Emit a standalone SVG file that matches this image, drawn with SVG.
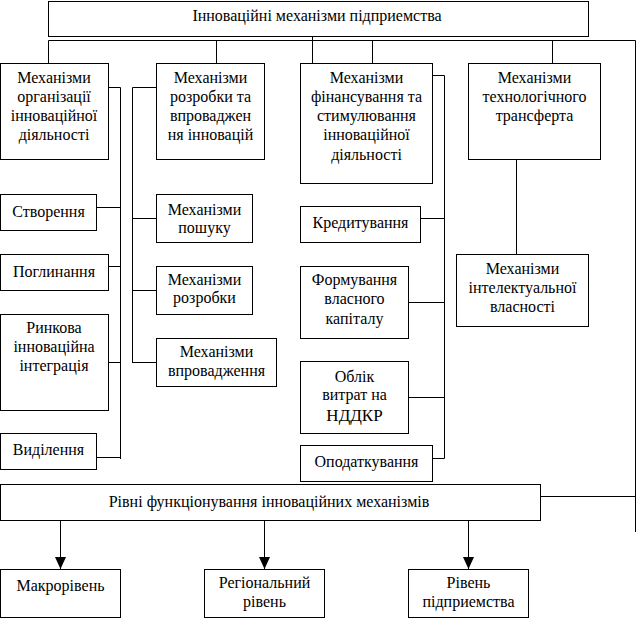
<svg xmlns="http://www.w3.org/2000/svg" width="638" height="621" viewBox="0 0 638 621">
<style>
rect{fill:#fff;stroke:#000;stroke-width:1}
text{font-family:'Liberation Serif',serif;font-size:16px;fill:#000;text-anchor:middle}
.c line,.c polyline{stroke:#000;stroke-width:1;fill:none}
</style>
<defs>
<marker id="ah" viewBox="0 0 12 12" refX="12" refY="6" markerWidth="12" markerHeight="12" markerUnits="userSpaceOnUse" orient="auto">
<path d="M0,0.5 L12,6 L0,11.5 Z" fill="#000"/>
</marker>
</defs>
<g class="c" id="connectors">
<polyline points="48.5,63 48.5,40.5 635.5,40.5 635.5,532"/>
<line x1="216.5" y1="40.5" x2="216.5" y2="63"/>
<line x1="372.5" y1="40.5" x2="372.5" y2="63"/>
<line x1="552.5" y1="40.5" x2="552.5" y2="63"/>
<line x1="312.5" y1="36" x2="312.5" y2="72"/>
<polyline points="108,87.5 120.5,87.5 120.5,459"/>
<line x1="97" y1="207.5" x2="120.5" y2="207.5"/>
<line x1="108" y1="266.5" x2="120.5" y2="266.5"/>
<line x1="108" y1="362.5" x2="120.5" y2="362.5"/>
<line x1="97" y1="457.5" x2="120.5" y2="457.5"/>
<polyline points="156.5,87.5 132.5,87.5 132.5,363"/>
<line x1="132.5" y1="218.5" x2="156.5" y2="218.5"/>
<line x1="132.5" y1="290.5" x2="156.5" y2="290.5"/>
<line x1="132.5" y1="362.5" x2="156.5" y2="362.5"/>
<polyline points="432.5,75.5 444.5,75.5 444.5,458.5 432.5,458.5"/>
<line x1="420" y1="218.5" x2="444.5" y2="218.5"/>
<line x1="408.5" y1="302.5" x2="444.5" y2="302.5"/>
<line x1="408.5" y1="397.5" x2="444.5" y2="397.5"/>
<line x1="516.5" y1="159" x2="516.5" y2="254"/>
<line x1="540" y1="496.5" x2="635.5" y2="496.5"/>
<line x1="60.5" y1="521" x2="60.5" y2="569" marker-end="url(#ah)"/>
<line x1="264.5" y1="521" x2="264.5" y2="569" marker-end="url(#ah)"/>
<line x1="468.5" y1="521" x2="468.5" y2="569" marker-end="url(#ah)"/>
</g>
<g font-family="Liberation Serif" font-size="16">
<g id="n-top"><rect x="48.5" y="1.5" width="540" height="35"/><text x="317" y="21">Інноваційні механізми підприемства</text></g>
<g id="n-org"><rect x="0.5" y="63.5" width="108" height="96"/><text x="54" y="83">Механізми</text><text x="54" y="102">організації</text><text x="54" y="121">інноваційної</text><text x="54" y="140">діяльності</text></g>
<g id="n-rozr"><rect x="156.5" y="63.5" width="108" height="96"/><text x="210.5" y="83">Механізми</text><text x="210.5" y="102">розробки та</text><text x="210.5" y="121">впроваджен</text><text x="210.5" y="140">ня інновацій</text></g>
<g id="n-fin"><rect x="300.5" y="63.5" width="132" height="120"/><text x="366.5" y="83">Механізми</text><text x="366.5" y="102">фінансування та</text><text x="366.5" y="121">стимулювання</text><text x="366.5" y="140">інноваційної</text><text x="366.5" y="160">діяльності</text></g>
<g id="n-tech"><rect x="468.5" y="63.5" width="132" height="96"/><text x="534.5" y="83">Механізми</text><text x="534.5" y="102">технологічного</text><text x="534.5" y="121">трансферта</text></g>
<g id="n-stv"><rect x="0.5" y="194.5" width="96" height="36"/><text x="48.5" y="217">Створення</text></g>
<g id="n-pogl"><rect x="0.5" y="254.5" width="108" height="36"/><text x="54" y="277">Поглинання</text></g>
<g id="n-rynk"><rect x="0.5" y="314.5" width="108" height="96"/><text x="54" y="333">Ринкова</text><text x="54" y="352">інноваційна</text><text x="54" y="371">інтеграція</text></g>
<g id="n-vyd"><rect x="0.5" y="433.5" width="96" height="36"/><text x="48.5" y="455">Виділення</text></g>
<g id="n-posh"><rect x="156.5" y="194.5" width="96" height="48"/><text x="204.5" y="215">Механізми</text><text x="204.5" y="233">пошуку</text></g>
<g id="n-mrozr"><rect x="156.5" y="266.5" width="96" height="48"/><text x="204.5" y="285">Механізми</text><text x="204.5" y="303">розробки</text></g>
<g id="n-vpr"><rect x="156.5" y="338.5" width="120" height="48"/><text x="216.5" y="357">Механізми</text><text x="216.5" y="376">впровадження</text></g>
<g id="n-kred"><rect x="300.5" y="206.5" width="120" height="36"/><text x="360.5" y="228">Кредитування</text></g>
<g id="n-form"><rect x="300.5" y="266.5" width="108" height="72"/><text x="354.5" y="285">Формування</text><text x="354.5" y="304">власного</text><text x="354.5" y="324">капіталу</text></g>
<g id="n-oblik"><rect x="300.5" y="361.5" width="108" height="72"/><text x="354.5" y="382">Облік</text><text x="354.5" y="400">витрат на</text><text x="354.5" y="421" style="font-size:17px">НДДКР</text></g>
<g id="n-opod"><rect x="300.5" y="445.5" width="132" height="36"/><text x="366.5" y="467">Оподаткування</text></g>
<g id="n-intel"><rect x="456.5" y="254.5" width="132" height="72"/><text x="522.5" y="274">Механізми</text><text x="522.5" y="293">інтелектуальної</text><text x="522.5" y="312">власності</text></g>
<g id="n-rivni"><rect x="0.5" y="484.5" width="540" height="36"/><text x="269" y="507">Рівні функціонування інноваційних механізмів</text></g>
<g id="n-makro"><rect x="0.5" y="569.5" width="120" height="48"/><text x="60.5" y="591">Макрорівень</text></g>
<g id="n-reg"><rect x="204.5" y="569.5" width="120" height="48"/><text x="264.5" y="588">Регіональний</text><text x="264.5" y="607">рівень</text></g>
<g id="n-pidpr"><rect x="408.5" y="569.5" width="120" height="48"/><text x="468.5" y="588">Рівень</text><text x="468.5" y="607">підприемства</text></g>
</g>
</svg>
